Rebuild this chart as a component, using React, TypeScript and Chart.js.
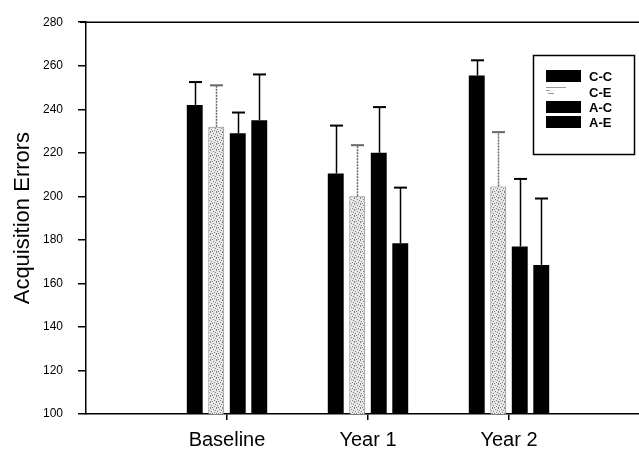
import React, { useEffect, useRef } from "react";
import { Chart, registerables } from "chart.js";

Chart.register(...registerables);

// Groups along the x axis
const categories = ["Baseline", "Year 1", "Year 2"];

// Series: mean acquisition errors per group
const seriesNames = ["C-C", "C-E", "A-C", "A-E"];
const ccValues = [242, 210.5, 255.5];
const ceValues = [232, 200, 204.5];
const acValues = [229, 220, 177];
const aeValues = [235, 178.5, 168.5];

// Upper error-bar lengths
const ccErrors = [10.5, 22, 7];
const ceErrors = [19, 23.5, 25];
const acErrors = [9.5, 21, 31];
const aeErrors = [21, 25.5, 30.5];

// Y axis range and tick step
const yMin = 100;
const yMax = 280;
const yStep = 20;

const FONT = "Arial, 'Liberation Sans', sans-serif";

function makeStipple(): CanvasPattern | string {
  const c = document.createElement("canvas");
  c.width = 6;
  c.height = 6;
  const g = c.getContext("2d");
  if (!g) return "#dcdcdc";
  g.fillStyle = "#e8e8e8";
  g.fillRect(0, 0, 6, 6);
  g.fillStyle = "#808080";
  const dots = [
    [0, 0], [3, 1], [5, 2], [1, 3], [4, 4], [2, 5], [0, 5],
  ];
  dots.forEach(([x, y]) => g.fillRect(x, y, 1, 1));
  const p = g.createPattern(c, "repeat");
  return p || "#dcdcdc";
}

export default function App() {
  const canvasRef = useRef<HTMLCanvasElement | null>(null);

  useEffect(() => {
    const canvas = canvasRef.current;
    if (!canvas) return;

    const stipple = makeStipple();
    const labels = ["", ...categories, ""];
    const pad = (arr: number[]) => [null, ...arr, null];

    const values = [ccValues, ceValues, acValues, aeValues];
    const errors = [ccErrors, ceErrors, acErrors, aeErrors];
    const fills: (string | CanvasPattern)[] = ["#000000", stipple, "#000000", "#000000"];
    const borders = ["#000000", "#8a8a8a", "#000000", "#000000"];

    const errorBars = {
      id: "errorBars",
      afterDatasetsDraw(chart: any) {
        const ctx = chart.ctx;
        const y = chart.scales.y;
        ctx.save();
        values.forEach((vals, i) => {
          const meta = chart.getDatasetMeta(i);
          meta.data.forEach((bar: any, j: number) => {
            const k = j - 1;
            if (k < 0 || k >= vals.length) return;
            const top = y.getPixelForValue(vals[k] + errors[i][k]);
            const x = Math.round(bar.x) + 0.5;
            ctx.strokeStyle = i === 1 ? "#666666" : "#000000";
            ctx.lineWidth = 1.5;
            ctx.setLineDash(i === 1 ? [2, 1] : []);
            ctx.beginPath();
            ctx.moveTo(x, bar.y);
            ctx.lineTo(x, top);
            ctx.stroke();
            ctx.setLineDash([]);
            ctx.lineWidth = 2;
            ctx.beginPath();
            ctx.moveTo(x - 6.5, top);
            ctx.lineTo(x + 6.5, top);
            ctx.stroke();
          });
        });
        ctx.restore();
      },
    };

    const frame = {
      id: "frameAndLegend",
      afterDraw(chart: any) {
        const ctx = chart.ctx;
        const a = chart.chartArea;
        ctx.save();
        // top frame line
        ctx.strokeStyle = "#000000";
        ctx.lineWidth = 1.5;
        ctx.beginPath();
        ctx.moveTo(a.left - 6, a.top);
        ctx.lineTo(chart.width, a.top);
        ctx.stroke();

        // legend box
        const bx = 533.5;
        const by = 55.5;
        const bw = 101;
        const bh = 99;
        ctx.lineWidth = 1.5;
        ctx.strokeRect(bx, by, bw, bh);
        const rows = [76, 92, 107, 122];
        seriesNames.forEach((name, i) => {
          const cy = rows[i];
          ctx.fillStyle = i === 1 ? "#ffffff" : fills[i];
          ctx.fillRect(546, cy - 6, 35, 12);
          if (i === 1) {
            ctx.fillStyle = "#9a9a9a";
            ctx.fillRect(546, cy - 5, 20, 1);
            ctx.fillRect(546, cy - 2, 4, 1);
            ctx.fillRect(548, cy + 1, 6, 1);
          }
          ctx.fillStyle = "#000000";
          ctx.font = `bold 13px ${FONT}`;
          ctx.textAlign = "left";
          ctx.textBaseline = "middle";
          ctx.fillText(name, 589, cy + 1);
        });
        ctx.restore();
      },
    };

    const chart = new Chart(canvas, {
      type: "bar",
      data: {
        labels,
        datasets: seriesNames.map((name, i) => ({
          label: name,
          data: pad(values[i]) as any,
          backgroundColor: fills[i] as any,
          borderColor: borders[i],
          borderWidth: i === 1 ? 1 : 0,
          categoryPercentage: 0.61,
          barPercentage: 0.74,
        })),
      },
      options: {
        responsive: false,
        animation: false,
        events: [],
        layout: { padding: { top: 20, right: 10, left: 0, bottom: 0 } },
        plugins: {
          legend: { display: false },
          tooltip: { enabled: false },
        },
        scales: {
          x: {
            offset: false,
            grid: {
              offset: false,
              drawOnChartArea: false,
              drawTicks: true,
              tickLength: 6,
              lineWidth: 1.5,
              color: (c: any) =>
                c.index > 0 && c.index <= categories.length ? "#000000" : "rgba(0,0,0,0)",
            },
            border: { display: true, color: "#000000", width: 1.5 },
            ticks: {
              autoSkip: false,
              maxRotation: 0,
              color: "#000000",
              padding: 8,
              font: { family: FONT, size: 20 },
            },
            afterFit: (s: any) => {
              s.height = 38;
            },
          },
          y: {
            min: yMin,
            max: yMax,
            grid: {
              drawOnChartArea: false,
              drawTicks: true,
              tickLength: 8,
              lineWidth: 1.5,
              color: "#000000",
            },
            border: { display: true, color: "#000000", width: 1.5 },
            ticks: {
              stepSize: yStep,
              color: "#000000",
              padding: 15,
              font: { family: FONT, size: 12 },
            },
            title: {
              display: true,
              text: "Acquisition Errors",
              color: "#000000",
              font: { family: FONT, size: 22 },
              padding: { top: 10, bottom: 0 },
            },
            afterFit: (s: any) => {
              s.width = 86;
            },
          },
        },
      },
      plugins: [errorBars, frame],
    });

    return () => chart.destroy();
  }, []);

  return (
    <div
      style={{
        position: "fixed",
        left: 0,
        top: 0,
        width: 639,
        height: 452,
        overflow: "hidden",
        background: "#ffffff",
      }}
    >
      <canvas ref={canvasRef} width={660} height={452} style={{ display: "block" }} />
    </div>
  );
}
